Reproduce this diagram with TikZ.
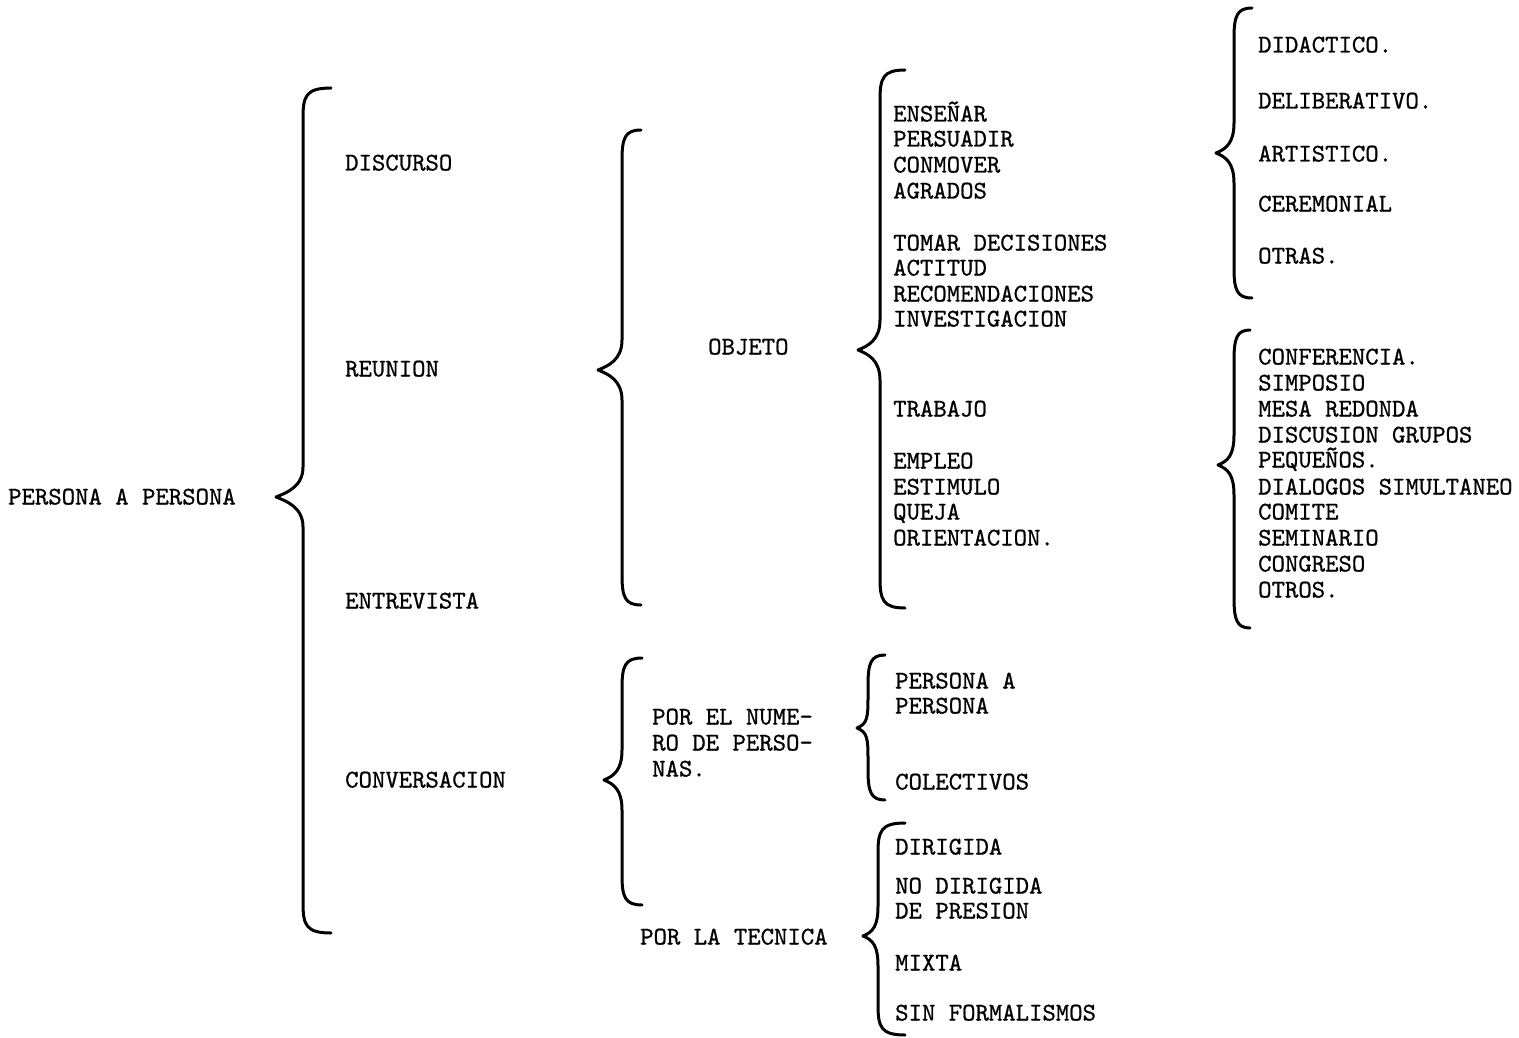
\documentclass[tikz,border=0pt]{standalone}
\usepackage{fontspec}
\newfontfamily\typew{lmmono10-regular.otf}[FakeBold=0.8]
\tikzset{
  lbl/.style={anchor=west,inner sep=0pt,text height=15pt,text depth=0pt,font=\typew\fontsize{25.5}{28}\selectfont},
  brc/.style={line width=3pt,line cap=round,line join=round}
}
% #1 V (vertical x), #2 top y, #3 bottom y, #4 tip x, #5 tip y, #6 hook x
\newcommand\curlybr[6]{%
  \draw[brc] (#6,#2) .. controls ({#1+3},#2) and (#1,{#2+8}) .. (#1,{#2+30})
    -- (#1,{#5-30}) .. controls (#1,{#5-10}) and ({#4+10},{#5-4}) .. (#4,#5)
    .. controls ({#4+10},{#5+4}) and (#1,{#5+10}) .. (#1,{#5+30})
    -- (#1,{#3-30}) .. controls (#1,{#3-8}) and ({#1+3},#3) .. (#6,#3);}
\begin{document}
\begin{tikzpicture}[x=1pt,y=-1pt]
\useasboundingbox (0,0) rectangle (1519,1038);
% braces
\curlybr{303}{88}{933}{276}{497}{331}
\curlybr{622}{130}{605}{598}{370}{641}
\curlybr{880}{70}{608}{858}{350}{905}
\curlybr{1234}{8}{298}{1216}{153}{1252}
\curlybr{1234}{330}{628}{1218}{465}{1250}
\curlybr{622}{658}{905}{604}{780}{642}
\curlybr{868}{655}{800}{857}{728}{885}
\curlybr{878}{823}{1035}{863}{936}{905}
% root
\node[lbl] (root) at (8,497) {PERSONA A PERSONA};
% level 1
\node[lbl] (disc) at (345,163) {DISCURSO};
\node[lbl] (reun) at (345,369) {REUNION};
\node[lbl] (entr) at (345,601) {ENTREVISTA};
\node[lbl] (conv) at (345,780) {CONVERSACION};
% objeto
\node[lbl] (obj) at (708,347) {OBJETO};
\foreach \t/\y [count=\i] in {ENSEÑAR/114,PERSUADIR/139,CONMOVER/165,AGRADOS/191,
  TOMAR DECISIONES/243,ACTITUD/268,RECOMENDACIONES/294,INVESTIGACION/319,
  TRABAJO/409,EMPLEO/461,ESTIMULO/487,QUEJA/512,ORIENTACION./538}
  \node[lbl] (ob\i) at (893,\y) {\t};
% discurso types
\foreach \t/\y [count=\i] in {DIDACTICO./45,DELIBERATIVO./101,ARTISTICO./154,CEREMONIAL/204,OTRAS./256}
  \node[lbl] (di\i) at (1258,\y) {\t};
% reunion types
\foreach \t/\y [count=\i] in {CONFERENCIA./357,SIMPOSIO/383,MESA REDONDA/409,DISCUSION GRUPOS/435,
  PEQUEÑOS./460,DIALOGOS SIMULTANEO/487,COMITE/512,SEMINARIO/538,CONGRESO/564,OTROS./590}
  \node[lbl] (re\i) at (1258,\y) {\t};
% conversacion
\node[lbl] (num1) at (652,717) {POR EL NUME-};
\node[lbl] (num2) at (652,743) {RO DE PERSO-};
\node[lbl] (num3) at (652,769) {NAS.};
\node[lbl] (tec) at (640,937) {POR LA TECNICA};
\node[lbl] (pp1) at (895,681) {PERSONA A};
\node[lbl] (pp2) at (895,706) {PERSONA};
\node[lbl] (col) at (895,782) {COLECTIVOS};
\foreach \t/\y [count=\i] in {DIRIGIDA/847,NO DIRIGIDA/886,DE PRESION/911,MIXTA/963,SIN FORMALISMOS/1013}
  \node[lbl] (te\i) at (895,\y) {\t};
\end{tikzpicture}
\end{document}
